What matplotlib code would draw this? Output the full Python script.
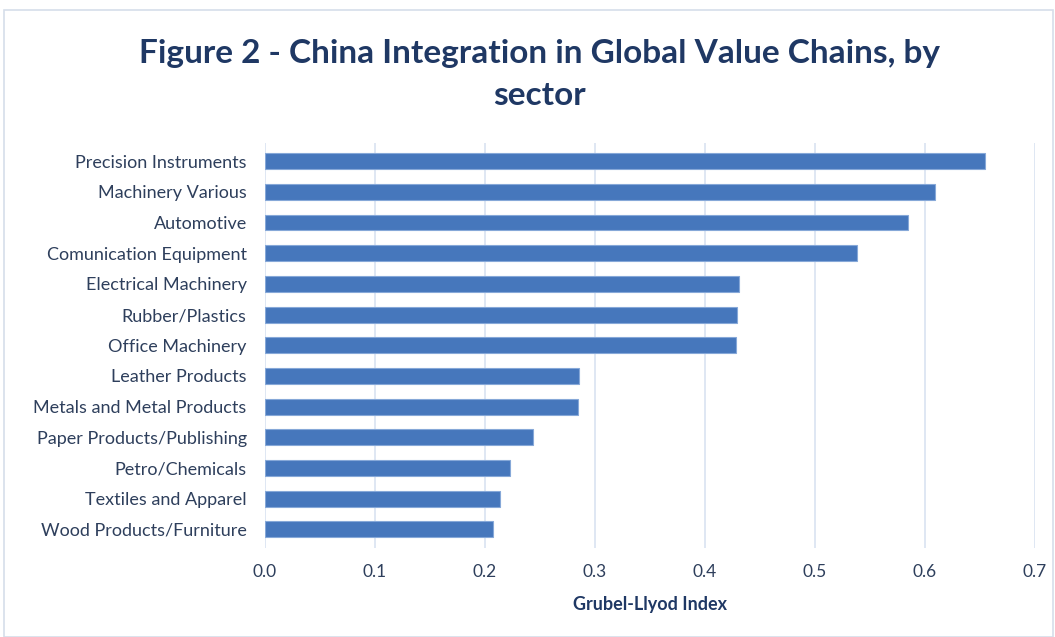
import matplotlib
matplotlib.use('Agg')
import matplotlib.pyplot as plt
from matplotlib.patches import Rectangle

# ── data (top to bottom as shown) ─────────────────────────────────────────────
sectors = [
    "Precision Instruments",
    "Machinery Various",
    "Automotive",
    "Comunication Equipment",
    "Electrical Machinery",
    "Rubber/Plastics",
    "Office Machinery",
    "Leather Products",
    "Metals and Metal Products",
    "Paper Products/Publishing",
    "Petro/Chemicals",
    "Textiles and Apparel",
    "Wood Products/Furniture",
]
gl_index = [0.655, 0.609, 0.585, 0.538, 0.431, 0.429, 0.428,
            0.286, 0.285, 0.244, 0.223, 0.214, 0.207]
x_ticks = [0.0, 0.1, 0.2, 0.3, 0.4, 0.5, 0.6, 0.7]

TEXT = "#1F3864"
LABEL = "#2E3F5C"
FONT = ["Lato", "DejaVu Sans"]

fig = plt.figure(figsize=(10.55, 6.37), dpi=100)
ax = fig.add_axes([0.251, 0.140, 0.730, 0.636])

# frame round the whole chart
fig.patches.append(Rectangle((0.004, 0.0), 0.994, 0.984, transform=fig.transFigure,
                             fill=False, edgecolor="#D6DEEA", linewidth=1.2))

ypos = list(range(len(sectors)))[::-1]
ax.barh(ypos, gl_index, height=0.52, color="#4677BC",
        edgecolor="#86A8D8", linewidth=0.8, zorder=3)

ax.set_xlim(0, 0.7)
ax.set_ylim(-0.6, len(sectors) - 0.4)
ax.set_xticks(x_ticks)
ax.set_xticklabels([f"{t:.1f}" for t in x_ticks], family=FONT, fontsize=12.5, color=LABEL)
ax.set_yticks(ypos)
ax.set_yticklabels(sectors, family=FONT, fontsize=13, color=LABEL)
ax.tick_params(axis="both", length=0)
ax.tick_params(axis="y", pad=13)
ax.tick_params(axis="x", pad=12)

ax.grid(axis="x", color="#DCE5F2", linewidth=1.3, zorder=0)
for s in ax.spines.values():
    s.set_visible(False)

ax.set_xlabel("Grubel-Llyod Index", family=FONT, fontsize=13, fontweight="bold",
              color=TEXT, labelpad=11)

fig.text(0.511, 0.883, "Figure 2 - China Integration in Global Value Chains, by\nsector",
         ha="center", va="center", family=FONT, fontsize=24, fontweight="bold",
         color=TEXT, linespacing=1.55)

fig.savefig("out.png", dpi=100)
